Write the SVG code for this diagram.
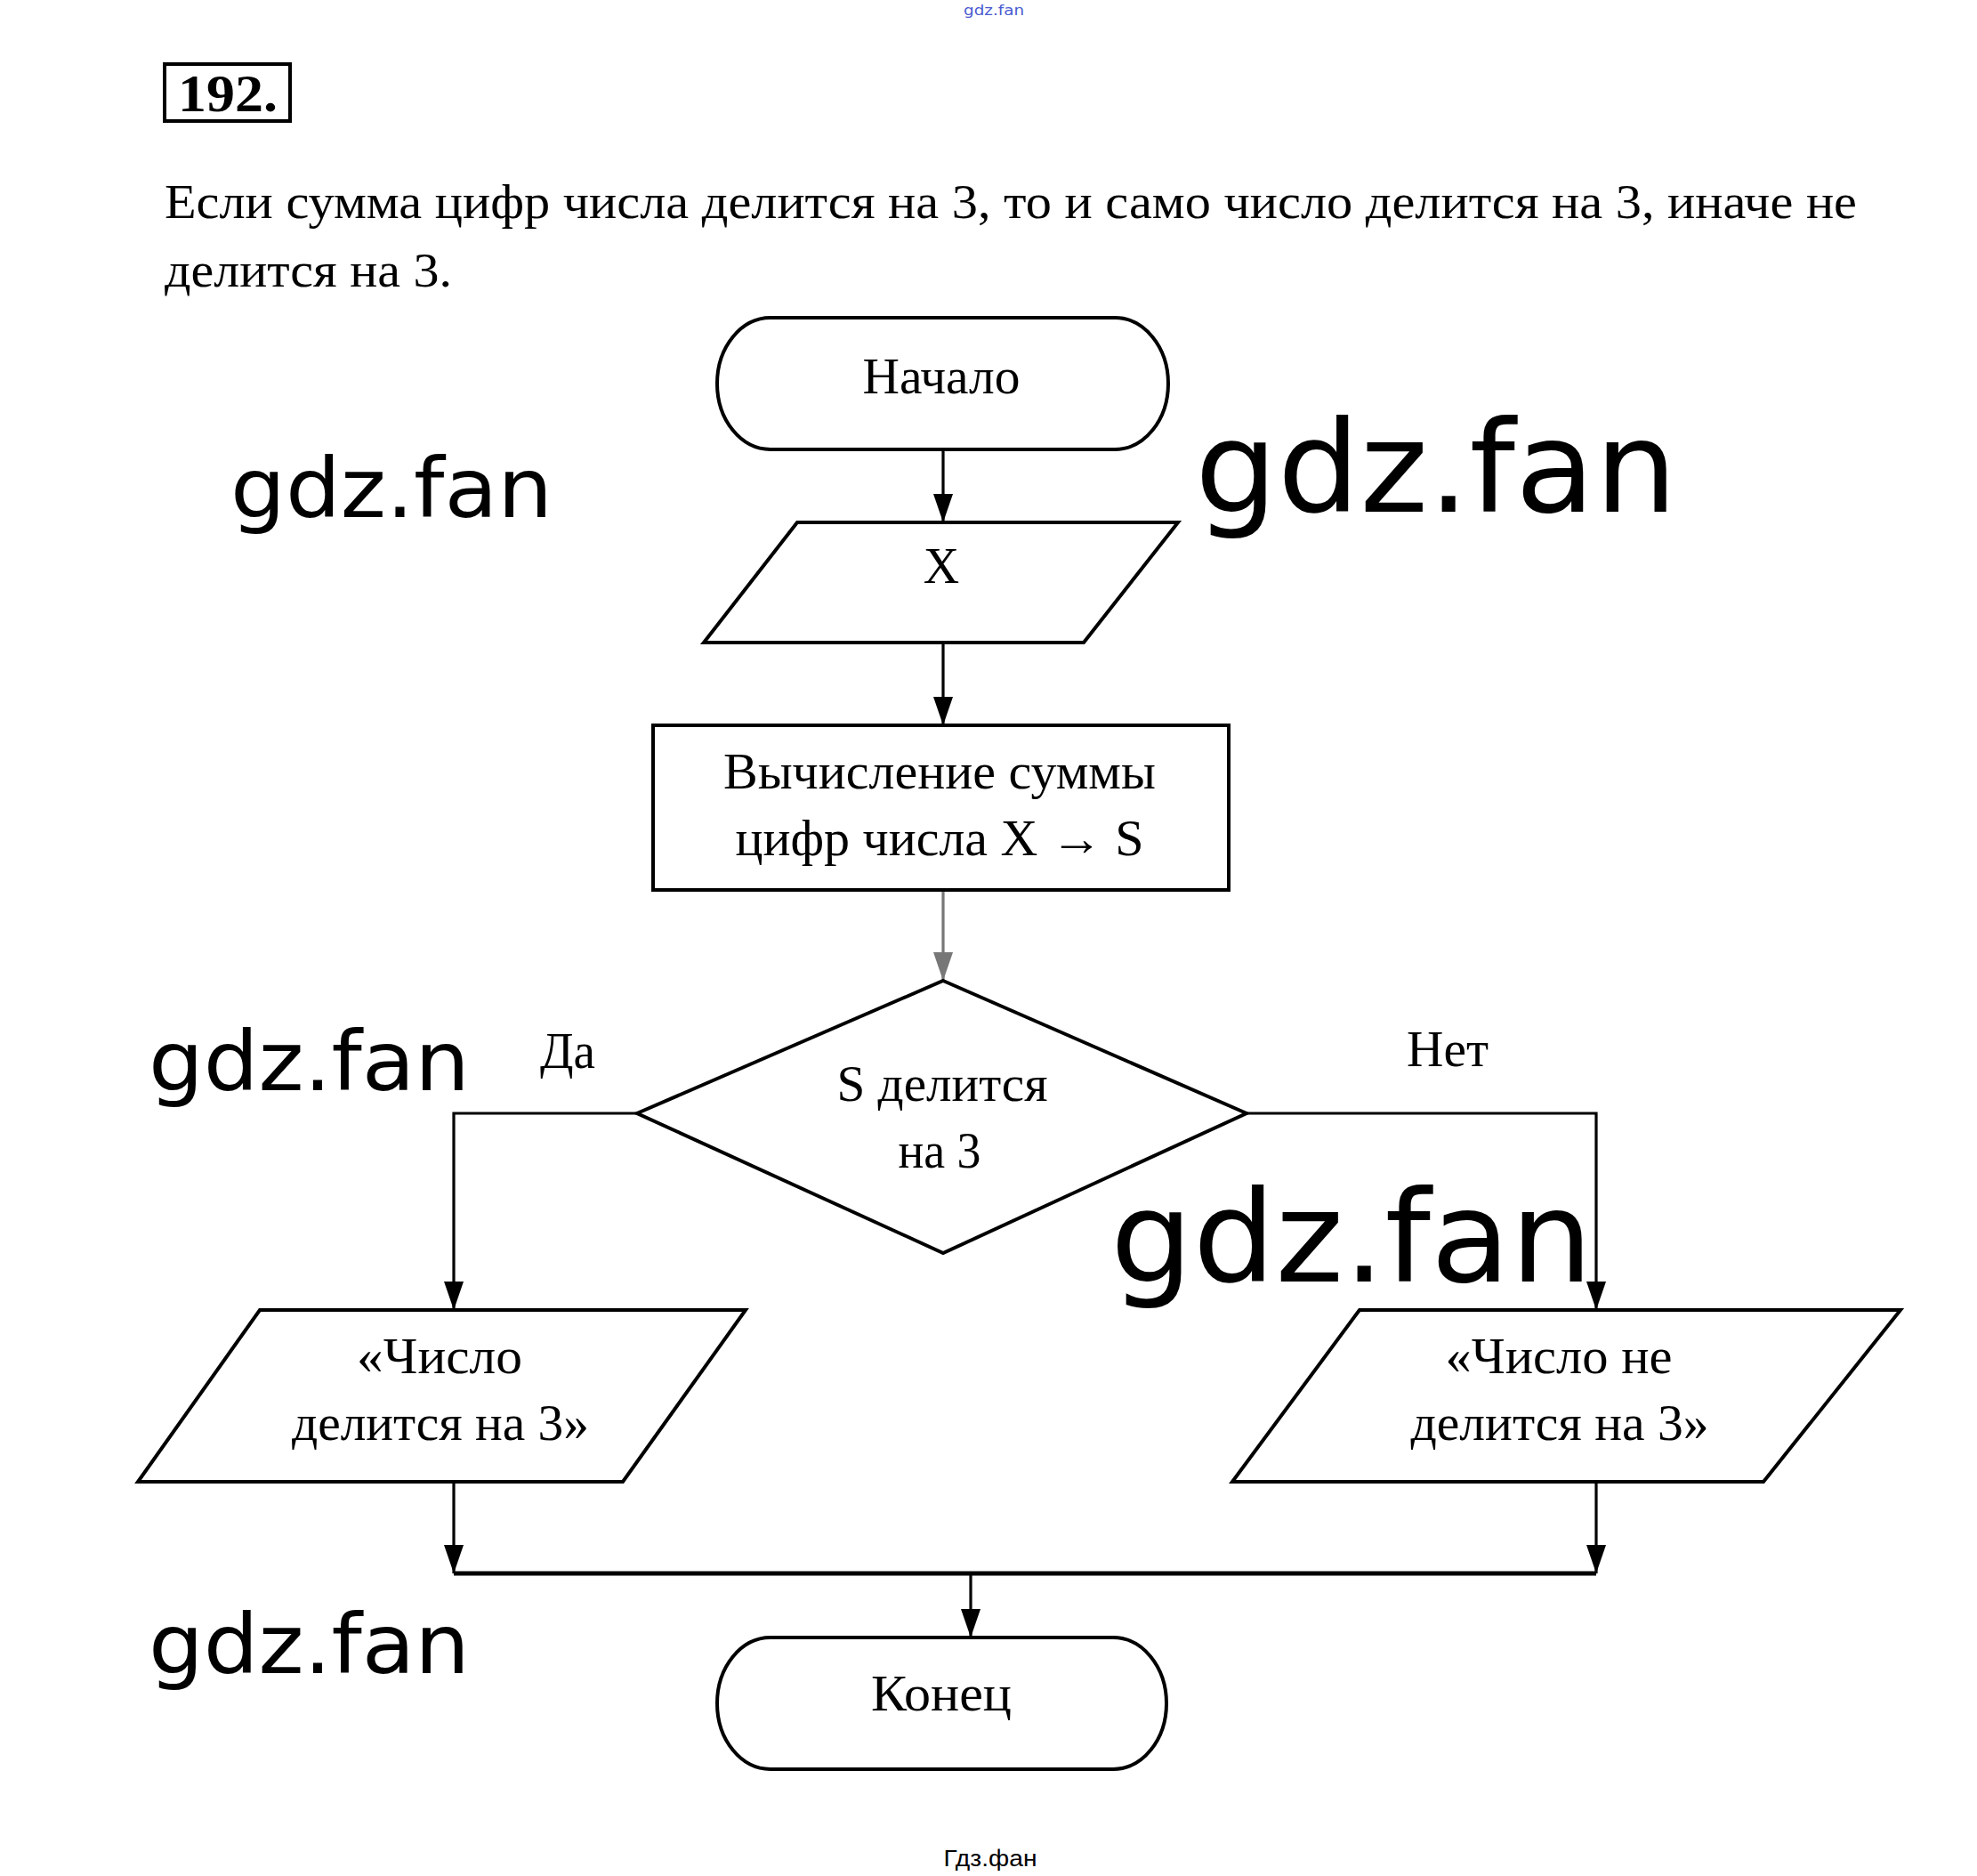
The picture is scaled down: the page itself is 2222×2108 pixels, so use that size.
<svg xmlns="http://www.w3.org/2000/svg" width="2222" height="2108" viewBox="0 0 2222 2108">
<style>
.shape{fill:#fff;stroke:#000;stroke-width:4;stroke-linejoin:miter}
.conn{fill:none;stroke:#000;stroke-width:3.2}
.lbl{font-family:"Liberation Serif","Times New Roman",serif;font-size:56px;fill:#000;text-anchor:middle}
.para{font-family:"Liberation Serif","Times New Roman",serif;font-size:54px;fill:#000}
.wm{font-family:"DejaVu Sans","Open Sans",sans-serif;fill:#000}
</style>
<defs>
<marker id="arr" markerUnits="userSpaceOnUse" viewBox="0 0 32 22" refX="32" refY="11" markerWidth="32" markerHeight="22" orient="auto">
<path d="M0,0 L32,11 L0,22 z" fill="#000"/>
</marker>
<marker id="arrg" markerUnits="userSpaceOnUse" viewBox="0 0 32 22" refX="32" refY="11" markerWidth="32" markerHeight="22" orient="auto">
<path d="M0,0 L32,11 L0,22 z" fill="#777"/>
</marker>
</defs>
<rect width="2222" height="2108" fill="#fff"/>

<text x="1117" y="17" font-family="DejaVu Sans, sans-serif" font-size="16" fill="#4a5bd0" text-anchor="middle" textLength="68" lengthAdjust="spacingAndGlyphs">gdz.fan</text>

<g id="header">
<rect x="185" y="72" width="141" height="64" fill="none" stroke="#000" stroke-width="4"/>
<text x="200" y="125" font-family="Liberation Serif, Times New Roman, serif" font-size="60" font-weight="bold" textLength="112" lengthAdjust="spacingAndGlyphs">192.</text>
<text class="para" x="185" y="245" textLength="1902" lengthAdjust="spacingAndGlyphs">Если сумма цифр числа делится на 3, то и само число делится на 3, иначе не</text>
<text class="para" x="185" y="322" textLength="323" lengthAdjust="spacingAndGlyphs">делится на 3.</text>
</g>

<g id="connectors">
<line class="conn" x1="1060" y1="507" x2="1060" y2="587" marker-end="url(#arr)"/>
<line class="conn" x1="1060" y1="722" x2="1060" y2="815" marker-end="url(#arr)"/>
<line class="conn" x1="1060" y1="1000" x2="1060" y2="1102" style="stroke:#777" marker-end="url(#arrg)"/>
<polyline class="conn" points="716,1251 510,1251 510,1472" marker-end="url(#arr)"/>
<polyline class="conn" points="1401,1251 1794,1251 1794,1472" marker-end="url(#arr)"/>
<line class="conn" x1="510" y1="1665" x2="510" y2="1768" marker-end="url(#arr)"/>
<line class="conn" x1="1794" y1="1665" x2="1794" y2="1768" marker-end="url(#arr)"/>
<line class="conn" x1="510" y1="1768" x2="1794" y2="1768" style="stroke-width:5"/>
<line class="conn" x1="1091" y1="1768" x2="1091" y2="1840" marker-end="url(#arr)"/>
</g>

<g id="start">
<rect class="shape" x="806" y="357" width="507" height="148" rx="60" ry="74"/>
<text class="lbl" x="1058" y="442" textLength="177" lengthAdjust="spacingAndGlyphs">Начало</text>
</g>

<g id="input-x">
<polygon class="shape" points="896,587 1324,587 1218,722 791,722"/>
<text class="lbl" x="1058" y="655">X</text>
</g>

<g id="compute-sum">
<rect class="shape" x="734" y="815" width="647" height="185"/>
<text class="lbl" x="1056" y="886" textLength="486" lengthAdjust="spacingAndGlyphs">Вычисление суммы</text>
<text class="lbl" x="1056" y="961" textLength="459" lengthAdjust="spacingAndGlyphs">цифр числа X → S</text>
</g>

<g id="decision">
<polygon class="shape" points="1060,1102 1401,1251 1060,1408 716,1251"/>
<text class="lbl" x="1059" y="1237" textLength="237" lengthAdjust="spacingAndGlyphs">S делится</text>
<text class="lbl" x="1056" y="1312" textLength="93" lengthAdjust="spacingAndGlyphs">на 3</text>
</g>

<g id="label-yes">
<text class="lbl" x="638" y="1200" textLength="62" lengthAdjust="spacingAndGlyphs">Да</text>
</g>
<g id="label-no">
<text class="lbl" x="1627" y="1198" textLength="92" lengthAdjust="spacingAndGlyphs">Нет</text>
</g>

<g id="out-yes">
<polygon class="shape" points="292,1472 838,1472 700,1665 155,1665"/>
<text class="lbl" x="494" y="1543" textLength="186" lengthAdjust="spacingAndGlyphs">«Число</text>
<text class="lbl" x="495" y="1618" textLength="334" lengthAdjust="spacingAndGlyphs">делится на 3»</text>
</g>

<g id="out-no">
<polygon class="shape" points="1528,1472 2136,1472 1982,1665 1385,1665"/>
<text class="lbl" x="1752" y="1543" textLength="255" lengthAdjust="spacingAndGlyphs">«Число не</text>
<text class="lbl" x="1753" y="1618" textLength="335" lengthAdjust="spacingAndGlyphs">делится на 3»</text>
</g>

<g id="end">
<rect class="shape" x="806" y="1840" width="505" height="148" rx="60" ry="74"/>
<text class="lbl" x="1058" y="1922" textLength="158" lengthAdjust="spacingAndGlyphs">Конец</text>
</g>

<g id="watermarks">
<text class="wm" x="259" y="581" font-size="92" textLength="362" lengthAdjust="spacingAndGlyphs">gdz.fan</text>
<text class="wm" x="1343" y="575" font-size="142" textLength="542" lengthAdjust="spacingAndGlyphs">gdz.fan</text>
<text class="wm" x="167" y="1225" font-size="92" textLength="361" lengthAdjust="spacingAndGlyphs">gdz.fan</text>
<text class="wm" x="1248" y="1440" font-size="142" textLength="542" lengthAdjust="spacingAndGlyphs">gdz.fan</text>
<text class="wm" x="167" y="1880" font-size="92" textLength="361" lengthAdjust="spacingAndGlyphs">gdz.fan</text>
</g>

<text x="1113" y="2097" font-family="Liberation Sans, Arial, sans-serif" font-size="26" text-anchor="middle" textLength="105" lengthAdjust="spacingAndGlyphs">Гдз.фан</text>
</svg>
